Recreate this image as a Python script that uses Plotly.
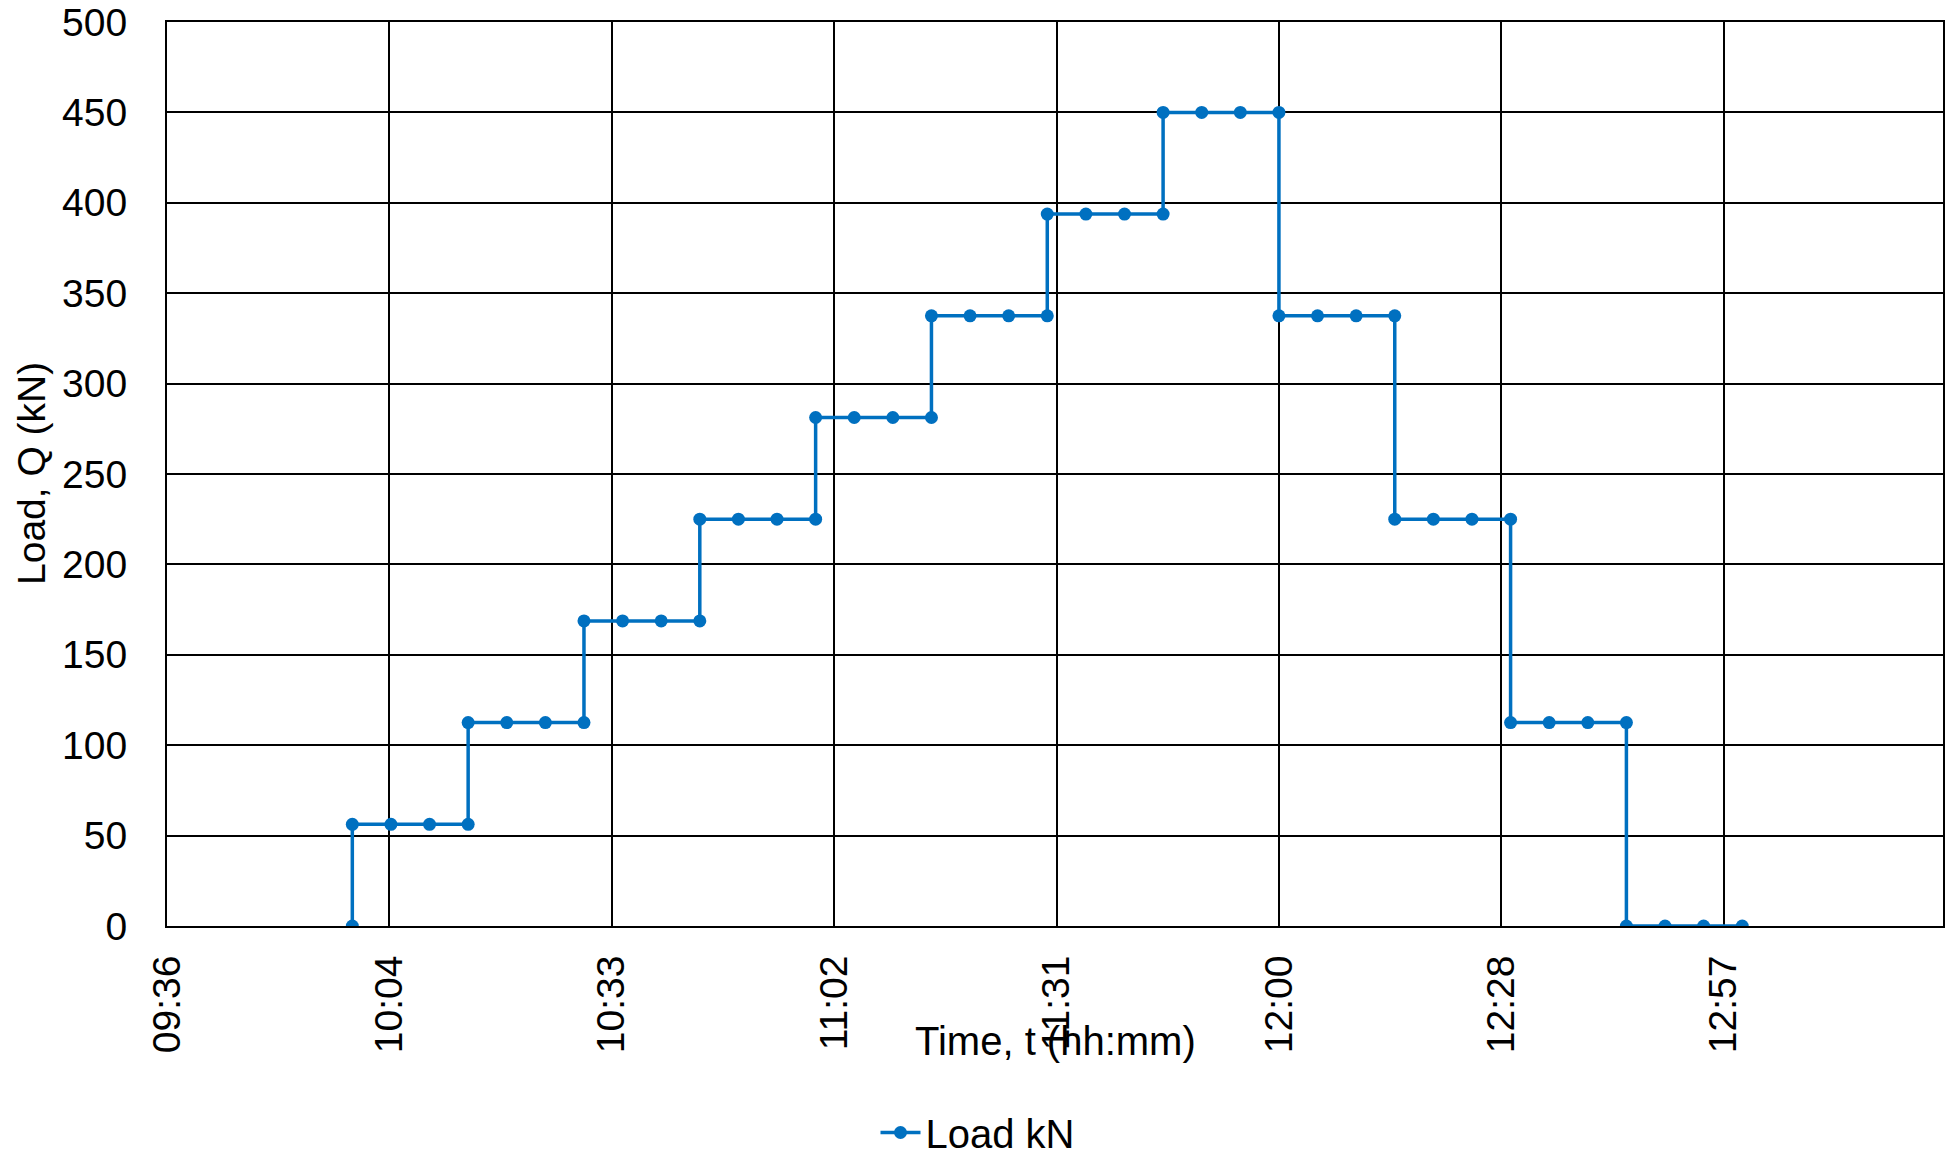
import plotly.graph_objects as go

# Data: step load test (time hh:mm, load kN)
times = ["10:00", "10:00", "10:05", "10:10", "10:15",
         "10:15", "10:20", "10:25", "10:30",
         "10:30", "10:35", "10:40", "10:45",
         "10:45", "10:50", "10:55", "11:00",
         "11:00", "11:05", "11:10", "11:15",
         "11:15", "11:20", "11:25", "11:30",
         "11:30", "11:35", "11:40", "11:45",
         "11:45", "11:50", "11:55", "12:00",
         "12:00", "12:05", "12:10", "12:15",
         "12:15", "12:20", "12:25", "12:30",
         "12:30", "12:35", "12:40", "12:45",
         "12:45", "12:50", "12:55", "13:00"]
loads = [0, 56.25, 56.25, 56.25, 56.25,
         112.5, 112.5, 112.5, 112.5,
         168.75, 168.75, 168.75, 168.75,
         225, 225, 225, 225,
         281.25, 281.25, 281.25, 281.25,
         337.5, 337.5, 337.5, 337.5,
         393.75, 393.75, 393.75, 393.75,
         450, 450, 450, 450,
         337.5, 337.5, 337.5, 337.5,
         225, 225, 225, 225,
         112.5, 112.5, 112.5, 112.5,
         0, 0, 0, 0]

tick_vals = ["09:36:00", "10:04:48", "10:33:36", "11:02:24", "11:31:12",
             "12:00:00", "12:28:48", "12:57:36"]
tick_text = ["09:36", "10:04", "10:33", "11:02", "11:31", "12:00", "12:28", "12:57"]
x_range = ["09:36:00", "13:26:00"]
y_ticks = [0, 50, 100, 150, 200, 250, 300, 350, 400, 450, 500]

DAY = "2024-01-01 "
FONT = "Liberation Sans"
FS = 39

fig = go.Figure()
fig.add_trace(go.Scatter(
    x=[DAY + t for t in times], y=loads, mode="lines+markers", name="Load kN",
    line=dict(color="#0070C0", width=3.5),
    marker=dict(color="#0070C0", size=13),
))

fig.update_layout(
    width=1955, height=1158,
    margin=dict(l=167, r=12, t=22, b=232, autoexpand=False),
    paper_bgcolor="white", plot_bgcolor="white",
    font=dict(family=FONT, size=FS, color="black"),
    showlegend=True,
    legend=dict(orientation="h", xref="container", yref="container",
                x=0.5, xanchor="center", y=0.022, yanchor="middle",
                font=dict(size=FS + 1), itemwidth=40),
    xaxis=dict(
        type="date", range=[DAY + x_range[0], DAY + x_range[1]],
        tickvals=[DAY + t for t in tick_vals], ticktext=tick_text,
        tickangle=-90, ticks="", ticklabelstandoff=12, automargin=False,
        showgrid=True, gridcolor="black", gridwidth=1.5,
        showline=True, linecolor="black", linewidth=2, mirror=True,
        zeroline=False,
    ),
    yaxis=dict(
        range=[0, 500], tickvals=y_ticks, ticks="", ticklabelstandoff=30,
        automargin=False,
        showgrid=True, gridcolor="black", gridwidth=1.5,
        showline=True, linecolor="black", linewidth=2, mirror=True,
        zeroline=False,
    ),
    annotations=[
        dict(text="Time, t (hh:mm)", xref="paper", yref="paper", x=0.5, y=0,
             xanchor="center", yanchor="middle", yshift=-115, showarrow=False,
             font=dict(size=FS + 1)),
        dict(text="Load, Q (kN)", xref="paper", yref="paper", x=0, y=0.5,
             xanchor="center", yanchor="middle", xshift=-136, textangle=-90,
             showarrow=False, font=dict(size=FS)),
    ],
)

fig.write_html("out.html", config={"displayModeBar": False},
               post_script="document.body.style.margin='0';")
